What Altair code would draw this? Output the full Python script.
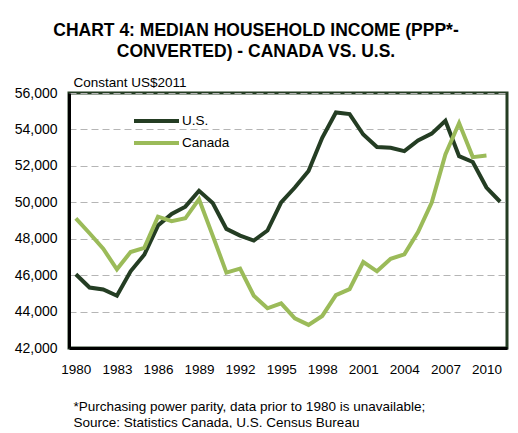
import altair as alt
import pandas as pd

years_us = list(range(1980, 2012))
us = [46050, 45320, 45210, 44870, 46210, 47120, 48720, 49360, 49760, 50630,
      49960, 48540, 48170, 47900, 48450, 50000, 50810, 51720, 53540, 54930,
      54840, 53720, 53030, 52990, 52810, 53390, 53770, 54480, 52530, 52210,
      50810, 50030]
years_ca = list(range(1980, 2011))
canada = [49120, 48300, 47450, 46320, 47270, 47500, 49210, 48960, 49120, 50170,
          48170, 46140, 46360, 44870, 44180, 44450, 43630, 43270, 43760, 44900,
          45230, 46720, 46210, 46900, 47140, 48360, 49990, 52630, 54350, 52480,
          52570]
series_names = ["U.S.", "Canada"]
series_colors = ["#243d23", "#9bbb59"]
x_ticks = list(range(1980, 2011, 3))
y_ticks = list(range(42000, 56001, 2000))
title_lines = ["CHART 4: MEDIAN HOUSEHOLD INCOME (PPP*-", "CONVERTED) - CANADA VS. U.S."]
y_title = "Constant US$2011"
footnote = ["*Purchasing power parity, data prior to 1980 is unavailable;",
            "Source: Statistics Canada, U.S. Census Bureau"]

df = pd.concat([
    pd.DataFrame({"year": years_us, "value": us, "series": "U.S."}),
    pd.DataFrame({"year": years_ca, "value": canada, "series": "Canada"}),
])

FONT = "Liberation Sans"

chart = alt.Chart(df).mark_line(strokeWidth=4, strokeJoin="miter").encode(
    x=alt.X("year:Q",
            scale=alt.Scale(domain=[1979.5, 2011.5], nice=False, zero=False),
            axis=alt.Axis(values=x_ticks, format="d", grid=False, ticks=False,
                          labelPadding=14, labelFontSize=13.5, labelColor="#000000",
                          labelFont=FONT, domainColor="#000000", domainWidth=3,
                          title=footnote, titleFont=FONT, titleFontSize=13.5,
                          titleFontWeight="normal", titleColor="#000000",
                          titleAlign="left", titleAnchor="start", titleBaseline="alphabetic",
                          titleX=4, titleY=62, titleLineHeight=16)),
    y=alt.Y("value:Q",
            scale=alt.Scale(domain=[42000, 56000], nice=False, zero=False),
            axis=alt.Axis(values=y_ticks, format=",d", grid=True, gridDash=[7, 4],
                          gridColor="#b5b5b5", gridWidth=1, ticks=False,
                          labelPadding=12, labelFontSize=14, labelColor="#000000",
                          labelFont=FONT, domainColor="#000000", domainWidth=3,
                          title=y_title, titleFont=FONT, titleFontSize=13.5,
                          titleFontWeight="normal", titleColor="#000000",
                          titleAngle=0, titleAlign="left", titleBaseline="alphabetic",
                          titleX=4, titleY=-6.5)),
    color=alt.Color("series:N",
                    scale=alt.Scale(domain=series_names, range=series_colors),
                    legend=alt.Legend(orient="none", legendX=63, legendY=17, title=None,
                                      symbolType="stroke", symbolSize=2025,
                                      symbolStrokeWidth=4, labelFontSize=13.5,
                                      labelFont=FONT, labelColor="#000000",
                                      labelOffset=1, rowPadding=0, clipHeight=22,
                                      padding=0)),
).properties(
    width=438,
    height=255,
    title=alt.TitleParams(text=title_lines, font=FONT, fontSize=17.5, fontWeight="bold",
                          color="#000000", anchor="middle", frame="group", dx=-32,
                          lineHeight=21, offset=15),
    padding={"left": 61, "top": 85, "right": 3, "bottom": 80},
    autosize=alt.AutoSizeParams(type="none"),
).configure_view(
    stroke="#243d23", strokeWidth=3
)

chart.save("out.html", embed_options={"renderer": "svg", "actions": False})
